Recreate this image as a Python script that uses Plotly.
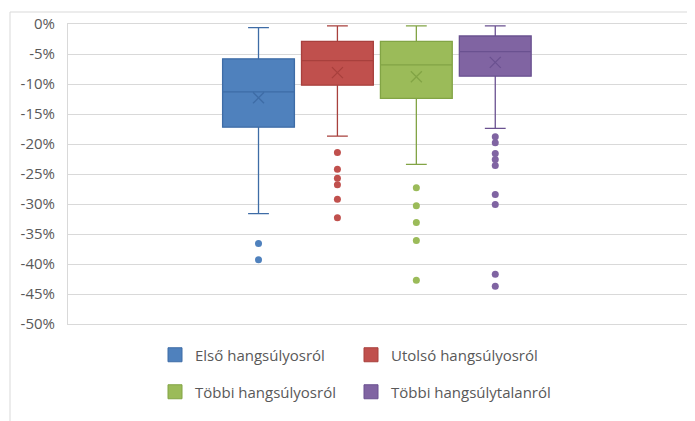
import plotly.graph_objects as go

categories = ["Első hangsúlyosról", "Utolsó hangsúlyosról", "Többi hangsúlyosról", "Többi hangsúlytalanról"]
upper = [-0.006, -0.003, -0.003, -0.003]
q3 = [-0.058, -0.029, -0.029, -0.020]
median = [-0.113, -0.061, -0.068, -0.046]
mean = [-0.123, -0.081, -0.088, -0.064]
q1 = [-0.172, -0.102, -0.124, -0.087]
lower = [-0.316, -0.187, -0.234, -0.174]
outliers = [
    [-0.366, -0.393],
    [-0.214, -0.242, -0.257, -0.268, -0.292, -0.323],
    [-0.273, -0.303, -0.331, -0.361, -0.427],
    [-0.188, -0.198, -0.216, -0.226, -0.236, -0.284, -0.301, -0.417, -0.437],
]
tick_vals = [0, -0.05, -0.10, -0.15, -0.20, -0.25, -0.30, -0.35, -0.40, -0.45, -0.50]
tick_text = ["0%", "-5%", "-10%", "-15%", "-20%", "-25%", "-30%", "-35%", "-40%", "-45%", "-50%"]

fills = ["#4F81BD", "#C0504D", "#9BBB59", "#8064A2"]
lines = ["#3E6CA6", "#A8403D", "#82A445", "#6A5190"]

# page offset (browser body margin)
OFF = 8
W, H = 695, 421
# plot area in page pixel coords
PL, PR, PT, PB = 68, 692, 24, 324
ML, MT = PL - OFF, PT - OFF
MR = W - (PR - OFF)
MB = H - (PB - OFF)
PW, PH = PR - PL, PB - PT

def px_x(p):
    return (p - PL) / PW

def px_y(p):
    return (PB - p) / PH

fig = go.Figure()
for i, name in enumerate(categories):
    pos = i + 1
    fig.add_trace(go.Box(
        x=[pos], q1=[q1[i]], median=[median[i]], q3=[q3[i]],
        lowerfence=[lower[i]], upperfence=[upper[i]],
        orientation="v", boxpoints=False, width=0.91, whiskerwidth=0.29,
        fillcolor=fills[i], line=dict(color=lines[i], width=1.3),
        showlegend=False, hoverinfo="skip",
    ))
    fig.add_trace(go.Scatter(
        x=[pos] * len(outliers[i]), y=outliers[i], mode="markers",
        marker=dict(color=fills[i], size=7, line=dict(width=0)),
        showlegend=False, hoverinfo="skip",
    ))
    fig.add_trace(go.Scatter(
        x=[pos], y=[mean[i]], mode="markers",
        marker=dict(symbol="x-thin", size=11, line=dict(color=lines[i], width=1.3)),
        showlegend=False, hoverinfo="skip",
    ))

legend_pos = [(155, 355), (351, 355), (155, 392), (351, 392)]
legend_ids = ["legend", "legend2", "legend3", "legend4"]
layout_legends = {}
for i, name in enumerate(categories):
    fig.add_trace(go.Scatter(
        x=[None], y=[None], mode="markers", name=name,
        marker=dict(symbol="square", size=14, color=fills[i], line=dict(color=lines[i], width=1)),
        showlegend=True, legend=legend_ids[i],
    ))
    lx, ly = legend_pos[i]
    layout_legends[legend_ids[i]] = dict(
        x=px_x(lx), y=px_y(ly), xanchor="left", yanchor="middle",
        bgcolor="rgba(0,0,0,0)", font=dict(family="Open Sans", size=15, color="#595959"),
        itemwidth=30,
    )

fig.update_layout(
    width=W, height=H,
    margin=dict(l=ML, r=MR, t=MT, b=MB, autoexpand=False),
    paper_bgcolor="white", plot_bgcolor="white",
    font=dict(family="Open Sans", color="#595959"),
    xaxis=dict(range=[-1.414, 6.493], showgrid=False, zeroline=False, showticklabels=False,
               showline=True, linecolor="#D9D9D9", linewidth=1, mirror=True, fixedrange=True),
    yaxis=dict(range=[-0.5, 0], tickvals=tick_vals, ticktext=tick_text, showgrid=True,
               gridcolor="#D9D9D9", gridwidth=1, zeroline=False, showline=True,
               linecolor="#D9D9D9", linewidth=1, ticks="", ticklabelstandoff=9,
               tickfont=dict(family="Open Sans", size=15, color="#595959")),
    shapes=[dict(type="rect", xref="paper", yref="paper",
                 x0=px_x(10), x1=px_x(720), y0=px_y(440), y1=px_y(12),
                 line=dict(color="#D9D9D9", width=1), layer="below")],
    **layout_legends,
)

fig.write_html("out.html")
